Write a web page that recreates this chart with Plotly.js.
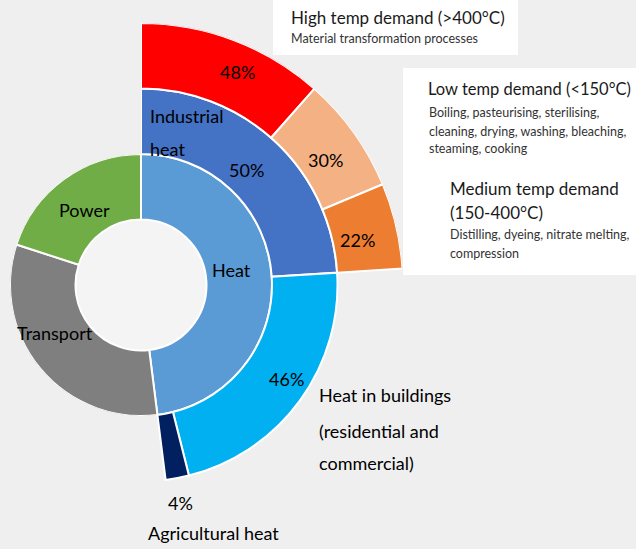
<!DOCTYPE html>
<html>
<head>
<meta charset="utf-8">
<script src="https://cdn.plot.ly/plotly-3.0.1.min.js"></script>
<style>
  html, body { margin: 0; padding: 0; background: #efefef; overflow: hidden; }
  #chart { width: 636px; height: 549px; }
</style>
</head>
<body>
<div id="chart"></div>
<script>
// Final energy use by end use (% of total)
const useLabels = ['Heat', 'Transport', 'Power'];
const useShares = [48, 32, 20];

// Breakdown of heat demand (% of heat)
const heatLabels = ['Industrial heat', 'Heat in buildings', 'Agricultural heat'];
const heatShares = [50, 46, 4];

// Breakdown of industrial heat by temperature band (% of industrial heat)
const tempLabels = ['High temp demand', 'Low temp demand', 'Medium temp demand'];
const tempShares = [48, 30, 22];

const useColors  = ['#5B9BD5', '#7F7F7F', '#70AD47'];
const heatColors = ['#4472C4', '#00B0F0', '#002060'];
const tempColors = ['#FF0000', '#F4B183', '#ED7D31'];

// Split an angular span (degrees, clockwise from 12 o'clock) in proportion to shares
function arcs(shares, start, span) {
  const total = shares.reduce((a, b) => a + b, 0);
  let acc = start;
  const theta = [], width = [];
  shares.forEach(s => {
    const w = span * s / total;
    theta.push(acc + w / 2);
    width.push(w);
    acc += w;
  });
  return { theta, width };
}

const ring1 = arcs(useShares, 0, 360);
const ring2 = arcs(heatShares, 0, ring1.width[0]);
const ring3 = arcs(tempShares, 0, ring2.width[0]);

function ring(labels, geo, colors, base, subplot) {
  return {
    type: 'barpolar',
    subplot: subplot,
    name: '',
    text: labels,
    theta: geo.theta,
    width: geo.width,
    r: labels.map(() => 1),
    base: labels.map(() => base),
    marker: { color: colors, line: { color: '#ffffff', width: 2 } },
    hovertemplate: '%{text}<extra></extra>',
    showlegend: false
  };
}

const traces = [
  ring(useLabels, ring1, useColors, 1, 'polar'),
  ring(heatLabels, ring2, heatColors, 2, 'polar2'),
  ring(tempLabels, ring3, tempColors, 3, 'polar2')
];

// Geometry of the rings (pixels)
const W = 636, H = 549;
const cx = 141, cy = 285, u = 65.5;
const lowSector = -85;
const lowExtent = Math.sin(-lowSector * Math.PI / 180);
const px = x => x / W;
const py = y => 1 - y / H;

function hiddenAxes(bg) {
  return {
    radialaxis: { visible: false },
    angularaxis: { visible: false, rotation: 90, direction: 'clockwise' },
    bgcolor: bg
  };
}

const chartFont = 'Lato, "Open Sans", sans-serif';
const boxFont = 'Lato, "Noto Sans", sans-serif';

function lab(text, x, y, size, anchor, font, color) {
  return {
    text: text, x: px(x), y: py(y), xref: 'paper', yref: 'paper',
    xanchor: anchor || 'center', yanchor: 'middle', showarrow: false,
    font: { family: font || chartFont, size: size, color: color || '#000000' }
  };
}

const pct = v => v + '%';

const annotations = [
  // ring labels
  lab(pct(tempShares[0]), 238, 72, 18),
  lab(pct(tempShares[1]), 325, 160, 18),
  lab(pct(tempShares[2]), 357, 240, 18),
  lab('Industrial', 148, 116, 18, 'left'),
  lab('heat', 148, 149, 18, 'left'),
  lab(pct(heatShares[0]), 246, 170, 18),
  lab(pct(heatShares[1]), 286, 379, 18),
  lab(pct(heatShares[2]), 180, 503, 18),
  lab('Power', 84, 210, 18),
  lab('Heat', 232, 270, 18),
  lab('Transport', 15, 333, 18, 'left'),
  lab('Heat in buildings', 317, 395, 18, 'left'),
  lab('(residential and', 317, 431, 18, 'left'),
  lab('commercial)', 317, 463, 18, 'left'),
  lab('Agricultural heat', 146, 533, 18, 'left'),
  // temperature band notes
  lab('High temp demand (>400°C)', 289, 17, 17, 'left', boxFont, '#1a1a1a'),
  lab('Material transformation processes', 289, 38, 12.5, 'left', boxFont, '#333333'),
  lab('Low temp demand (<150°C)', 426, 89, 16.5, 'left', boxFont, '#1a1a1a'),
  lab('Boiling, pasteurising, sterilising,', 427, 113, 12.5, 'left', boxFont, '#333333'),
  lab('cleaning, drying, washing, bleaching,', 427, 131, 12.5, 'left', boxFont, '#333333'),
  lab('steaming, cooking', 427, 149, 12.5, 'left', boxFont, '#333333'),
  lab('Medium temp demand', 448, 189, 17, 'left', boxFont, '#1a1a1a'),
  lab('(150-400°C)', 448, 212, 17, 'left', boxFont, '#1a1a1a'),
  lab('Distilling, dyeing, nitrate melting,', 448, 235, 12.5, 'left', boxFont, '#333333'),
  lab('compression', 448, 253, 12.5, 'left', boxFont, '#333333')
];

const shapes = [
  { type: 'rect', xref: 'paper', yref: 'paper', layer: 'below',
    x0: px(273), x1: px(518), y0: py(55), y1: py(0),
    fillcolor: '#ffffff', line: { width: 0 } },
  { type: 'rect', xref: 'paper', yref: 'paper', layer: 'below',
    x0: px(403), x1: px(636), y0: py(275), y1: py(68),
    fillcolor: '#ffffff', line: { width: 0 } }
];

const layout = {
  width: W, height: H,
  margin: { l: 0, r: 0, t: 0, b: 0 },
  paper_bgcolor: '#efefef',
  plot_bgcolor: '#efefef',
  showlegend: false,
  polar: Object.assign({
    domain: { x: [px(cx - 2 * u), px(cx + 2 * u)], y: [py(cy + 2 * u), py(cy - 2 * u)] },
    sector: [0, 360]
  }, hiddenAxes('#f4f4f4')),
  polar2: Object.assign({
    domain: { x: [px(cx), px(cx + 4 * u)], y: [py(cy + lowExtent * 4 * u), py(cy - 4 * u)] },
    sector: [lowSector, 90]
  }, hiddenAxes('rgba(0,0,0,0)')),
  annotations: annotations,
  shapes: shapes
};
layout.polar.radialaxis.range = [0, 2];
layout.polar2.radialaxis.range = [0, 4];

Plotly.newPlot('chart', traces, layout, { displayModeBar: false, staticPlot: true });
</script>
</body>
</html>
